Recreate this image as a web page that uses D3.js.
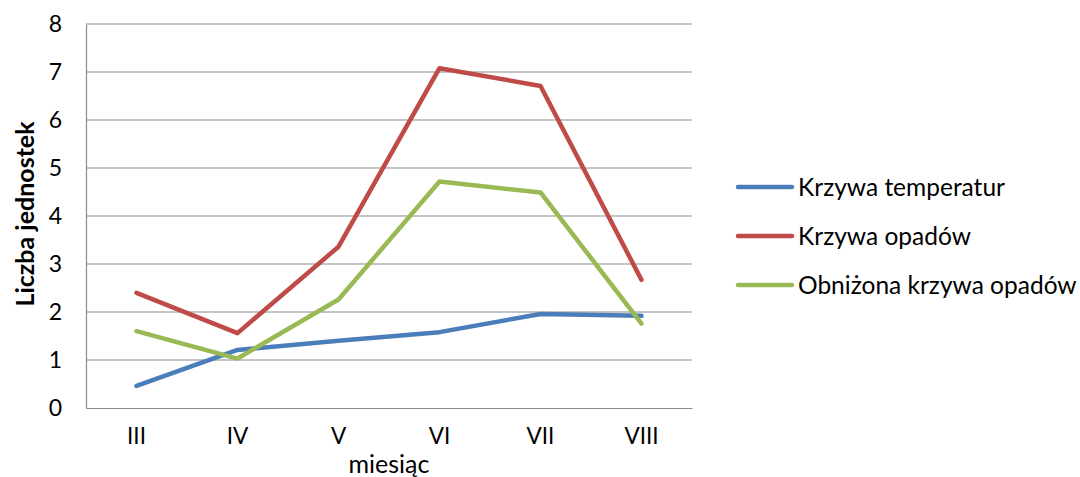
<!DOCTYPE html>
<html>
<head>
<meta charset="utf-8">
<script src="https://cdn.jsdelivr.net/npm/d3@7"></script>
<style>
  html, body { margin: 0; padding: 0; background: #fff; }
  svg { display: block; font-family: Lato, "Open Sans", sans-serif; }
</style>
</head>
<body>
<svg id="chart" width="1080" height="477"></svg>
<script>
// Miesiące (kategorie osi X)
const months = ["III", "IV", "V", "VI", "VII", "VIII"];
// Serie danych
const temperatura = [0.46, 1.21, 1.40, 1.58, 1.96, 1.92];
const opady = [2.40, 1.56, 3.36, 7.08, 6.71, 2.67];
const opadyObnizone = [1.60, 1.03, 2.26, 4.72, 4.49, 1.76];
const seriesNames = ["Krzywa temperatur", "Krzywa opadów", "Obniżona krzywa opadów"];
const seriesColors = ["#4A7EBB", "#BE4B48", "#98B954"];
const yTicks = [0, 1, 2, 3, 4, 5, 6, 7, 8];

const series = [temperatura, opady, opadyObnizone].map((values, i) => ({
  name: seriesNames[i], color: seriesColors[i], values
}));

const svg = d3.select("#chart");
const plot = { left: 86, right: 692, top: 24, bottom: 408 };

const x = d3.scaleBand().domain(months).range([plot.left, plot.right]);
const y = d3.scaleLinear().domain([0, 8]).range([plot.bottom, plot.top]);

// Linie siatki
svg.append("g")
  .selectAll("line")
  .data(yTicks.filter(d => d > 0))
  .join("line")
  .attr("x1", plot.left).attr("x2", plot.right)
  .attr("y1", d => y(d)).attr("y2", d => y(d))
  .attr("stroke", "#8a8a8a").attr("stroke-width", 1.2);

// Oś Y
const yAxis = svg.append("g")
  .attr("transform", `translate(${plot.left},0)`)
  .call(d3.axisLeft(y).tickValues(yTicks).tickSize(0).tickPadding(24));
yAxis.select(".domain").attr("stroke", "#8a8a8a").attr("stroke-width", 1.2);
yAxis.selectAll("text").attr("font-size", 23).attr("fill", "#000")
  .attr("font-family", "Lato, sans-serif");

// Oś X
const xAxis = svg.append("g")
  .attr("transform", `translate(0,${plot.bottom})`)
  .call(d3.axisBottom(x).tickSize(0).tickPadding(20));
xAxis.select(".domain").attr("stroke", "#8a8a8a").attr("stroke-width", 1.2);
xAxis.selectAll("text").attr("font-size", 22.5).attr("fill", "#000")
  .attr("font-family", "Lato, sans-serif");

// Tytuły osi
svg.append("text")
  .attr("transform", "translate(34,214) rotate(-90)")
  .attr("text-anchor", "middle")
  .attr("font-size", 25).attr("font-weight", "bold")
  .text("Liczba jednostek");

svg.append("text")
  .attr("x", 389).attr("y", 473)
  .attr("text-anchor", "middle")
  .attr("font-size", 25)
  .text("miesiąc");

// Linie serii
const line = d3.line()
  .x((d, i) => x(months[i]) + x.bandwidth() / 2)
  .y(d => y(d));

svg.append("g")
  .selectAll("path")
  .data(series)
  .join("path")
  .attr("d", d => line(d.values))
  .attr("fill", "none")
  .attr("stroke", d => d.color)
  .attr("stroke-width", 4.5)
  .attr("stroke-linejoin", "round")
  .attr("stroke-linecap", "round");

// Legenda
const legend = svg.append("g").attr("transform", "translate(738,187)");
const item = legend.selectAll("g")
  .data(series)
  .join("g")
  .attr("transform", (d, i) => `translate(0,${i * 49})`);
item.append("line")
  .attr("x1", 0).attr("x2", 54)
  .attr("stroke", d => d.color)
  .attr("stroke-width", 4.5)
  .attr("stroke-linecap", "round");
item.append("text")
  .attr("x", 60).attr("y", 0)
  .attr("dy", "0.35em")
  .attr("font-size", 24.5)
  .text(d => d.name);
</script>
</body>
</html>
